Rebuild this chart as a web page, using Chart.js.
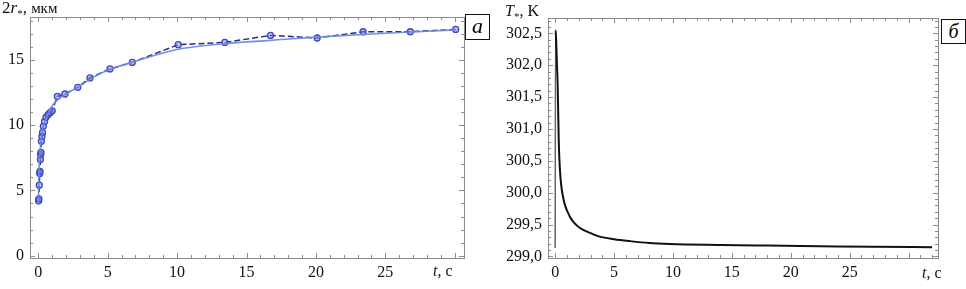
<!DOCTYPE html>
<html>
<head>
<meta charset="utf-8">
<script src="https://cdn.jsdelivr.net/npm/chart.js@4.4.0/dist/chart.umd.min.js"></script>
<style>
  body { margin: 0; background: #fff; width: 966px; height: 289px; overflow: hidden; position: relative; }
  canvas { position: absolute; top: 0; }
  .lbl { position: absolute; font-family: 'Liberation Serif', 'Times New Roman', serif; color: #111; white-space: nowrap; line-height: 16px; font-size: 16px; }
  .box { position: absolute; border: 1px solid #111; background: #fff; font-family: 'Liberation Serif', serif; font-style: italic; text-align: center; box-sizing: border-box; }
</style>
</head>
<body>
<canvas id="radiusChart" width="490" height="289" style="left:0"></canvas>
<canvas id="tempChart" width="476" height="289" style="left:490px"></canvas>

<div class="lbl" style="left:2px;top:0;font-size:17px">2<i>r</i><sub style="font-size:11px">*</sub>, <span style="font-size:15px">мкм</span></div>
<div class="lbl" style="left:433px;top:263px"><i>t</i>, c</div>
<div class="box" style="left:465px;top:14px;width:25px;height:26px;font-size:22px;line-height:22px">a</div>

<div class="lbl" style="left:505px;top:3px;font-size:16px"><i>T</i><sub style="font-size:11px">*</sub>, K</div>
<div class="lbl" style="left:922px;top:265px"><i>t</i>, c</div>
<div class="box" style="left:941px;top:19px;width:25px;height:25px;font-size:20px;line-height:22px">б</div>

<script>
// experimental droplet diameter, um
const expTime = [0.02, 0.04, 0.07, 0.1, 0.12, 0.15, 0.17, 0.19, 0.22, 0.26, 0.3, 0.36, 0.45, 0.55, 0.7, 0.85, 1.0, 1.37, 1.92, 2.84, 3.72, 5.16, 6.77, 10.08, 13.44, 16.73, 20.09, 23.4, 26.8, 30.07];
const expDiam = [4.2, 4.35, 5.4, 6.3, 6.45, 7.36, 7.74, 7.92, 8.76, 9.14, 9.43, 9.91, 10.29, 10.6, 10.8, 10.96, 11.1, 12.21, 12.39, 12.9, 13.62, 14.31, 14.81, 16.17, 16.34, 16.88, 16.68, 17.16, 17.16, 17.34];

// fitted curve
const fitTime = [0, 0.05, 0.1, 0.2, 0.3, 0.5, 0.75, 1, 1.4, 2, 2.84, 4, 5, 7, 10, 13, 16.7, 20, 25, 30.1];
const fitDiam = [3.9, 6.5, 7.6, 8.9, 9.6, 10.4, 11.0, 11.5, 11.95, 12.4, 12.9, 13.7, 14.2, 14.9, 15.8, 16.2, 16.5, 16.75, 17.05, 17.3];

// droplet temperature, K
const tempTime = [0, 0.03, 0.08, 0.15, 0.21, 0.3, 0.42, 0.66, 1.23, 1.6, 2.08, 2.8, 3.78, 5, 6.33, 8, 9.73, 14, 18, 22.5, 27, 32];
const tempK = [299.13, 302.55, 302.4, 302.0, 301.7, 300.83, 300.31, 299.94, 299.63, 299.53, 299.45, 299.38, 299.31, 299.27, 299.24, 299.21, 299.195, 299.18, 299.17, 299.16, 299.15, 299.145];

const radiusXTicks = [0, 5, 10, 15, 20, 25];
const radiusYTicks = [0, 5, 10, 15];
const tempXTicks = [0, 5, 10, 15, 20, 25];
const tempYTicks = [299.0, 299.5, 300.0, 300.5, 301.0, 301.5, 302.0, 302.5];

const toPoints = (xs, ys) => xs.map((x, i) => ({ x: x, y: ys[i] }));
const serif = { family: "'Liberation Serif', serif", size: 16 };

// Mathematica-like frame with inward ticks on all sides
const frameTicks = {
  id: 'frameTicks',
  beforeDatasetsDraw(chart, args, opts) {
    const { ctx, chartArea: a, scales: { x, y } } = chart;
    const isMajor = (v, step) => Math.abs(v / step - Math.round(v / step)) < 1e-6;
    ctx.save();
    ctx.strokeStyle = opts.color;
    ctx.lineWidth = 1;
    ctx.strokeRect(Math.round(a.left) + 0.5, Math.round(a.top) + 0.5, Math.round(a.right - a.left), Math.round(a.bottom - a.top));
    ctx.beginPath();
    for (let i = Math.ceil(x.min / opts.xMinor - 1e-9); i * opts.xMinor <= x.max; i++) {
      const v = i * opts.xMinor;
      const p = Math.round(x.getPixelForValue(v)) + 0.5;
      const len = isMajor(v, opts.xMajor) ? 5 : 3;
      ctx.moveTo(p, a.bottom); ctx.lineTo(p, a.bottom - len);
      ctx.moveTo(p, a.top); ctx.lineTo(p, a.top + len);
    }
    for (let i = Math.ceil(y.min / opts.yMinor - 1e-9); i * opts.yMinor <= y.max + 1e-9; i++) {
      const v = i * opts.yMinor;
      const p = Math.round(y.getPixelForValue(v)) + 0.5;
      const len = isMajor(v, opts.yMajor) ? 5 : 3;
      ctx.moveTo(a.left, p); ctx.lineTo(a.left + len, p);
      ctx.moveTo(a.right, p); ctx.lineTo(a.right - len, p);
    }
    ctx.stroke();
    ctx.restore();
  }
};

function axis(min, max, ticks, size, fmt, isX) {
  return {
    type: 'linear',
    min: min,
    max: max,
    grid: { display: false, drawTicks: false },
    border: { display: false },
    afterBuildTicks: s => { s.ticks = ticks.map(v => ({ value: v })); },
    afterFit: s => { if (isX) s.height = size; else s.width = size; },
    ticks: { font: serif, color: '#111', padding: isX ? 5 : 6, maxRotation: 0, autoSkip: false, callback: fmt }
  };
}

function createRadiusChart() {
  const ctx = document.getElementById('radiusChart').getContext('2d');
  new Chart(ctx, {
    type: 'line',
    data: {
      datasets: [{
        label: 'fit',
        data: toPoints(fitTime, fitDiam),
        borderColor: 'rgba(110,140,215,0.95)',
        borderWidth: 1.6,
        pointRadius: 0,
        cubicInterpolationMode: 'monotone'
      }, {
        label: 'experiment',
        data: toPoints(expTime, expDiam),
        borderColor: '#262a8c',
        borderWidth: 1.5,
        borderDash: [6, 3],
        pointRadius: 3,
        pointBorderWidth: 1.3,
        pointBorderColor: '#3f47c0',
        pointBackgroundColor: 'rgba(115,130,230,0.5)',
        tension: 0
      }]
    },
    options: {
      responsive: false,
      animation: false,
      devicePixelRatio: 1,
      layout: { padding: { left: 0, top: 17, right: 26, bottom: 0 } },
      plugins: {
        legend: { display: false },
        tooltip: { enabled: false },
        frameTicks: { color: '#8c8c8c', xMinor: 1, xMajor: 5, yMinor: 1, yMajor: 5 }
      },
      scales: {
        x: axis(-0.6, 30.67, radiusXTicks, 31, v => String(v), true),
        y: axis(-0.18, 18.29, radiusYTicks, 30, v => String(v), false)
      }
    },
    plugins: [frameTicks]
  });
}

function createTempChart() {
  const ctx = document.getElementById('tempChart').getContext('2d');
  new Chart(ctx, {
    type: 'line',
    data: {
      datasets: [{
        label: 'T',
        data: toPoints(tempTime, tempK),
        borderColor: '#111',
        borderWidth: 2,
        pointRadius: 0,
        cubicInterpolationMode: 'monotone',
        segment: {
          borderColor: c => c.p0DataIndex === 0 ? '#666' : undefined,
          borderWidth: c => c.p0DataIndex === 0 ? 1.5 : undefined
        }
      }]
    },
    options: {
      responsive: false,
      animation: false,
      devicePixelRatio: 1,
      layout: { padding: { left: 0, top: 18, right: 28, bottom: 0 } },
      plugins: {
        legend: { display: false },
        tooltip: { enabled: false },
        frameTicks: { color: '#8c8c8c', xMinor: 1, xMajor: 5, yMinor: 0.1, yMajor: 0.5 }
      },
      scales: {
        x: axis(-0.61, 32.5, tempXTicks, 31, v => String(v), true),
        y: axis(298.975, 302.74, tempYTicks, 58, v => v.toFixed(1).replace('.', ','), false)
      }
    },
    plugins: [frameTicks]
  });
}

createRadiusChart();
createTempChart();
</script>
</body>
</html>
